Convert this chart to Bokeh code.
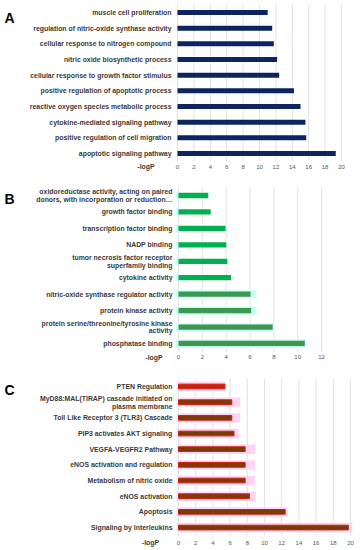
from bokeh.plotting import figure
from bokeh.models import Range1d, Label
from bokeh.core.properties import value
from bokeh.layouts import column
from bokeh.embed import file_html
from bokeh.resources import INLINE

# ---------------- data ----------------
a_terms = ["muscle cell proliferation",
           "regulation of nitric-oxide synthase activity",
           "cellular response to nitrogen compound",
           "nitric oxide biosynthetic process",
           "cellular response to growth factor stimulus",
           "positive regulation of apoptotic process",
           "reactive oxygen species metabolic process",
           "cytokine-mediated signaling pathway",
           "positive regulation of cell migration",
           "apoptotic signaling pathway"]
a_vals = [11.0, 11.55, 11.75, 12.15, 12.4, 14.2, 15.0, 15.6, 15.7, 19.3]

b_terms = ["oxidoreductase activity, acting on paired\ndonors, with incorporation or reduction\u2026",
           "growth factor binding",
           "transcription factor binding",
           "NADP binding",
           "tumor necrosis factor receptor\nsuperfamily binding",
           "cytokine activity",
           "nitric-oxide synthase regulator activity",
           "protein kinase activity",
           "protein serine/threonine/tyrosine kinase\nactivity",
           "phosphatase binding"]
b_vals = [2.5, 2.7, 3.95, 4.0, 4.1, 4.4, 6.05, 6.1, 7.9, 10.6]
b_halo = [0, 0, 0, 0, 0, 0, 6.55, 6.55, 7.95, 10.65]

c_terms = ["PTEN Regulation",
           "MyD88:MAL(TIRAP) cascade initiated on\nplasma membrane",
           "Toll Like Receptor 3 (TLR3) Cascade",
           "PIP3 activates AKT signaling",
           "VEGFA-VEGFR2 Pathway",
           "eNOS activation and regulation",
           "Metabolism of nitric oxide",
           "eNOS activation",
           "Apoptosis",
           "Signaling by Interleukins"]
c_vals = [5.4, 6.2, 6.2, 6.45, 7.75, 7.75, 7.75, 8.25, 12.4, 19.75]
c_halo = [5.5, 7.2, 7.2, 7.0, 8.95, 8.95, 8.9, 9.0, 12.7, 20.2]

a_ticks = [0, 2, 4, 6, 8, 10, 12, 14, 16, 18, 20]
b_ticks = [0, 2, 4, 6, 8, 10, 12]
c_ticks = [0, 2, 4, 6, 8, 10, 12, 14, 16, 18, 20]

FONT = "Liberation Sans"
W = 360


def panel(terms, ticks, h, x0, s, py0, r, tick_dy, letter, letter_y, logp_x, logp_y):
    """x0: pixel of value 0, s: px per unit, py0: px of first row centre, r: row pitch."""
    n = len(terms)
    idx = list(range(n))
    p = figure(width=W, height=h, output_backend="svg", toolbar_location=None,
               x_axis_type=None, y_axis_type=None,
               x_range=Range1d(-x0 / s, (W - x0) / s),
               y_range=Range1d((h - py0) / r, -py0 / r),
               min_border_left=0, min_border_right=0,
               min_border_top=0, min_border_bottom=0)
    p.outline_line_color = None
    p.background_fill_color = "white"
    p.border_fill_color = "white"
    # vertical grid lines
    p.segment(x0=ticks, x1=ticks, y0=-0.5, y1=n - 0.5, line_color="#e2e2e2", line_width=1)
    # category labels
    p.text(x=0, y=idx, text=terms, x_offset=-6, text_align="right",
           text_baseline="middle", text_font=value(FONT), text_font_style="bold",
           text_font_size="6.9px", text_color="#3a3a3a", text_line_height=1.1)
    # tick labels
    p.text(x=ticks, y=n - 1 + tick_dy, text=[str(t) for t in ticks], text_align="center",
           text_baseline="middle", text_font=value(FONT), text_font_size="6px",
           text_color="#555555")
    p.add_layout(Label(x=4, y=letter_y, x_units="screen", y_units="screen",
                       text=letter, text_font=FONT, text_font_style="bold",
                       text_font_size="14px", text_color="black",
                       text_baseline="alphabetic"))
    p.add_layout(Label(x=logp_x, y=logp_y, x_units="screen", y_units="screen",
                       text="-logP", text_font=FONT, text_font_style="bold",
                       text_font_size="6.9px", text_color="#3a3a3a",
                       text_align="center", text_baseline="middle"))
    return p, idx


# Panel A
pa, ia = panel(a_terms, a_ticks, 173, 177, 8.2, 12, 15.67, 0.83, "A", 156, 145.5, 7)
pa.hbar(y=ia, left=0, right=a_vals, height=0.32, fill_color="#0d2461", line_color=None)

# Panel B
pb, ib = panel(b_terms, b_ticks, 192, 178, 11.92, 22, 16.44, 0.85, "B", 167, 153.5, 8)
pb.hbar(y=ib, left=-0.2, right=b_halo, height=0.5, fill_color="#c8fff9", line_color=None)
b_cols = ["#00b050"] * 6 + ["#3a994e"] * 4
pb.hbar(y=ib, left=0, right=b_vals, height=0.32, fill_color=b_cols, line_color=None)

# Panel C
pc, ic = panel(c_terms, c_ticks, 185, 178, 8.6, 21, 15.67, 0.96, "C", 161, 150, 8)
pc.hbar(y=ic, left=-0.2, right=c_halo, height=0.6, fill_color="#ffd4f5", line_color=None)
c_fill = ["#c81e0a"] + ["#7c3a08"] * 9
pc.hbar(y=ic, left=0, right=c_vals, height=0.3, fill_color=c_fill,
        line_color="#d0200a", line_width=1)

layout = column(pa, pb, pc, spacing=0)
open("out.html", "w").write(file_html(layout, INLINE))
